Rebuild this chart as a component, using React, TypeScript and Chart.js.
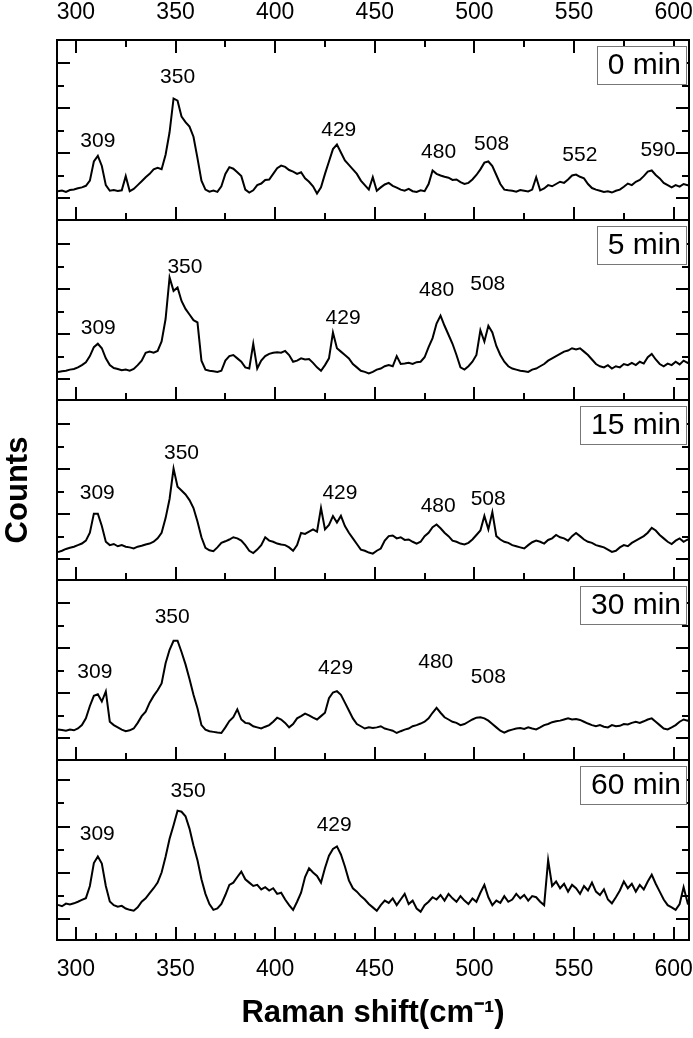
import React, { useEffect, useRef } from 'react';
import { Chart, registerables } from 'chart.js';

Chart.register(...registerables);

const FONT = '"Liberation Sans", Arial, Helvetica, sans-serif';

// Raman shift grid (cm-1)
const wavenumbers = [
  291, 293, 295, 297, 299, 301, 303, 305, 307, 309,
  311, 313, 315, 317, 319, 321, 323, 325, 327, 329,
  331, 333, 335, 337, 339, 341, 343, 345, 347, 349,
  351, 353, 355, 357, 359, 361, 363, 365, 367, 369,
  371, 373, 375, 377, 379, 381, 383, 385, 387, 389,
  391, 393, 395, 397, 399, 401, 403, 405, 407, 409,
  411, 413, 415, 417, 419, 421, 423, 425, 427, 429,
  431, 433, 435, 437, 439, 441, 443, 445, 447, 449,
  451, 453, 455, 457, 459, 461, 463, 465, 467, 469,
  471, 473, 475, 477, 479, 481, 483, 485, 487, 489,
  491, 493, 495, 497, 499, 501, 503, 505, 507, 509,
  511, 513, 515, 517, 519, 521, 523, 525, 527, 529,
  531, 533, 535, 537, 539, 541, 543, 545, 547, 549,
  551, 553, 555, 557, 559, 561, 563, 565, 567, 569,
  571, 573, 575, 577, 579, 581, 583, 585, 587, 589,
  591, 593, 595, 597, 599, 601, 603, 605, 607, 609,
];

const counts0min = [
  1.28, 1.31, 1.25, 1.33, 1.36, 1.41, 1.45, 1.52, 1.75, 2.60,
  2.85, 2.40, 1.55, 1.30, 1.33, 1.29, 1.32, 1.95, 1.28, 1.38,
  1.55, 1.72, 1.90, 2.05, 2.25, 2.32, 2.26, 2.90, 3.90, 5.40,
  5.30, 4.60, 4.35, 4.15, 3.70, 2.75, 1.75, 1.35, 1.26, 1.31,
  1.25, 1.50, 2.05, 2.35, 2.28, 2.12, 1.95, 1.35, 1.22, 1.32,
  1.55, 1.62, 1.78, 1.80, 2.05, 2.30, 2.42, 2.36, 2.22, 2.15,
  2.05, 2.12, 1.85, 1.70, 1.50, 1.18, 1.45, 2.05, 2.60, 3.15,
  3.35, 3.00, 2.65, 2.45, 2.25, 2.05, 1.75, 1.55, 1.35, 1.90,
  1.30, 1.45, 1.58, 1.65, 1.52, 1.44, 1.35, 1.30, 1.38, 1.28,
  1.25, 1.32, 1.28, 1.60, 2.20, 2.05, 1.98, 1.92, 1.88, 1.78,
  1.80, 1.68, 1.60, 1.65, 1.80, 2.00, 2.25, 2.55, 2.60, 2.40,
  2.00, 1.60, 1.35, 1.32, 1.30, 1.26, 1.33, 1.30, 1.27, 1.35,
  1.90, 1.32, 1.40, 1.55, 1.50, 1.60, 1.70, 1.65, 1.80, 1.98,
  2.02, 1.92, 1.85, 1.60, 1.42, 1.35, 1.30, 1.25, 1.28, 1.22,
  1.30, 1.35, 1.48, 1.62, 1.55, 1.70, 1.78, 1.95, 2.15, 2.20,
  2.00, 1.85, 1.65, 1.55, 1.45, 1.55, 1.48, 1.60, 1.55, 1.58,
];

const counts5min = [
  1.24, 1.28, 1.30, 1.35, 1.38, 1.45, 1.55, 1.68, 1.95, 2.35,
  2.50, 2.30, 1.85, 1.55, 1.42, 1.38, 1.32, 1.35, 1.30, 1.38,
  1.55, 1.75, 2.10, 2.15, 2.10, 2.18, 2.60, 3.60, 5.45, 4.85,
  5.00, 4.40, 4.05, 3.80, 3.55, 3.45, 1.75, 1.35, 1.30, 1.28,
  1.25, 1.30, 1.75, 1.95, 2.00, 1.85, 1.70, 1.45, 1.40, 2.50,
  1.40, 1.75, 1.95, 2.05, 2.10, 2.12, 2.10, 2.18, 2.00, 1.70,
  1.75, 1.85, 1.80, 1.82, 1.65, 1.45, 1.30, 1.55, 1.85, 3.00,
  2.30, 2.15, 2.00, 1.85, 1.60, 1.45, 1.30, 1.25, 1.18, 1.25,
  1.35, 1.40, 1.50, 1.55, 1.50, 1.95, 1.60, 1.62, 1.65, 1.60,
  1.68, 1.70, 1.90, 2.35, 2.75, 3.40, 3.75, 3.30, 2.90, 2.50,
  2.00, 1.45, 1.35, 1.50, 1.70, 2.00, 3.10, 2.60, 3.30, 3.00,
  2.40, 2.00, 1.70, 1.50, 1.40, 1.35, 1.30, 1.28, 1.25, 1.35,
  1.40, 1.50, 1.60, 1.75, 1.85, 1.95, 2.05, 2.15, 2.20, 2.30,
  2.25, 2.30, 2.15, 2.00, 1.80, 1.60, 1.50, 1.45, 1.55, 1.40,
  1.50, 1.45, 1.60, 1.55, 1.65, 1.55, 1.70, 1.62, 1.90, 2.05,
  1.80, 1.60, 1.50, 1.62, 1.55, 1.70, 1.58, 1.75, 1.65, 1.72,
];

const counts15min = [
  1.24, 1.30, 1.38, 1.43, 1.48, 1.55, 1.62, 1.75, 2.10, 2.95,
  2.95, 2.40, 1.70, 1.55, 1.60, 1.50, 1.55, 1.48, 1.45, 1.40,
  1.48, 1.52, 1.58, 1.62, 1.70, 1.85, 2.10, 2.75, 3.60, 4.95,
  4.15, 3.98, 3.80, 3.55, 3.20, 2.60, 1.90, 1.43, 1.32, 1.28,
  1.45, 1.65, 1.72, 1.80, 1.90, 1.85, 1.75, 1.55, 1.30, 1.20,
  1.35, 1.55, 1.90, 1.75, 1.70, 1.62, 1.58, 1.55, 1.45, 1.30,
  1.55, 2.09, 2.05, 2.15, 2.25, 2.15, 3.20, 2.25, 2.45, 2.84,
  2.55, 2.85, 2.40, 2.10, 1.85, 1.60, 1.35, 1.30, 1.22, 1.17,
  1.30, 1.40, 1.75, 1.95, 1.98, 1.85, 1.90, 1.78, 1.80, 1.70,
  1.62, 1.70, 1.95, 2.10, 2.35, 2.47, 2.30, 2.10, 1.95, 1.75,
  1.70, 1.62, 1.58, 1.65, 1.80, 2.00, 2.20, 2.85, 2.25, 3.02,
  1.95, 1.80, 1.70, 1.65, 1.55, 1.50, 1.45, 1.40, 1.55, 1.68,
  1.75, 1.70, 1.62, 1.78, 1.85, 2.00, 1.90, 1.85, 1.75, 1.95,
  2.09, 1.95, 1.80, 1.70, 1.65, 1.55, 1.50, 1.45, 1.35, 1.25,
  1.30, 1.45, 1.55, 1.50, 1.65, 1.75, 1.85, 1.95, 2.10, 2.32,
  2.20, 2.00, 1.85, 1.70, 1.60, 1.75, 1.85, 1.70, 1.80, 1.75,
];

const counts30min = [
  1.36, 1.33, 1.30, 1.35, 1.32, 1.40, 1.55, 1.85, 2.40, 2.85,
  2.92, 2.60, 3.05, 1.70, 1.55, 1.45, 1.35, 1.28, 1.32, 1.40,
  1.65, 1.95, 2.15, 2.55, 2.85, 3.10, 3.40, 4.30, 4.90, 5.30,
  5.30, 4.80, 4.25, 3.60, 2.90, 2.30, 1.55, 1.35, 1.28, 1.25,
  1.22, 1.20, 1.45, 1.73, 1.90, 2.25, 1.80, 1.65, 1.62, 1.50,
  1.45, 1.40, 1.48, 1.55, 1.70, 1.88, 1.80, 1.65, 1.45, 1.60,
  1.85, 1.95, 2.06, 1.98, 1.88, 1.80, 1.95, 2.10, 2.75, 3.00,
  3.06, 2.90, 2.55, 2.20, 1.85, 1.60, 1.50, 1.40, 1.45, 1.42,
  1.45, 1.50, 1.40, 1.35, 1.30, 1.20, 1.28, 1.35, 1.40, 1.50,
  1.55, 1.62, 1.70, 1.85, 2.10, 2.32, 2.10, 1.90, 1.80, 1.70,
  1.65, 1.55, 1.60, 1.70, 1.80, 1.88, 1.90, 1.85, 1.75, 1.60,
  1.45, 1.30, 1.22, 1.30, 1.35, 1.40, 1.42, 1.38, 1.45, 1.40,
  1.36, 1.45, 1.55, 1.60, 1.68, 1.72, 1.75, 1.80, 1.85, 1.80,
  1.82, 1.78, 1.70, 1.62, 1.55, 1.50, 1.55, 1.48, 1.45, 1.55,
  1.50, 1.52, 1.60, 1.58, 1.65, 1.70, 1.65, 1.72, 1.80, 1.85,
  1.70, 1.55, 1.40, 1.36, 1.45, 1.55, 1.70, 1.80, 1.75, 1.82,
];

const counts60min = [
  1.56, 1.50, 1.62, 1.58, 1.63, 1.70, 1.78, 1.86, 2.40, 3.42,
  3.71, 3.40, 2.40, 1.71, 1.55, 1.48, 1.52, 1.40, 1.34, 1.30,
  1.45, 1.70, 1.85, 2.08, 2.30, 2.55, 3.00, 3.70, 4.50, 5.10,
  5.75, 5.70, 5.50, 4.95, 4.20, 3.55, 2.70, 2.05, 1.60, 1.34,
  1.40, 1.60, 2.00, 2.45, 2.55, 2.80, 3.04, 2.70, 2.55, 2.40,
  2.45, 2.25, 2.35, 2.20, 2.30, 2.05, 2.10, 1.80, 1.55, 1.34,
  1.70, 2.10, 2.80, 3.19, 3.00, 2.85, 2.55, 3.20, 3.75, 4.05,
  4.16, 3.80, 3.27, 2.65, 2.30, 2.15, 1.95, 1.80, 1.60, 1.45,
  1.30, 1.55, 1.75, 1.65, 1.85, 1.55, 1.80, 2.05, 1.60, 1.75,
  1.40, 1.26, 1.55, 1.70, 1.90, 1.80, 2.00, 1.75, 2.05, 1.85,
  1.70, 1.95, 1.75, 1.60, 1.85, 1.70, 2.10, 2.45, 1.90, 1.55,
  1.75, 1.65, 1.95, 1.70, 1.80, 2.05, 1.85, 2.00, 1.75, 1.95,
  1.90, 1.70, 1.55, 3.55, 2.40, 2.60, 2.30, 2.50, 2.15, 2.45,
  2.30, 2.05, 2.40, 2.20, 2.55, 2.15, 2.00, 2.25, 1.80, 1.63,
  1.90, 2.20, 2.60, 2.30, 2.50, 2.15, 2.45, 2.25, 2.60, 2.90,
  2.50, 2.15, 1.80, 1.55, 1.45, 1.34, 1.60, 2.35, 1.65, 1.90,
];

const panelLabels = ['0 min', '5 min', '15 min', '30 min', '60 min'];

// peak annotations: [text, x (cm-1), y (panel units)]
const peaks0min = [['309', 311, 3.49], ['350', 351, 6.35], ['429', 431.9, 3.98], ['480', 482, 3.0], ['508', 508.6, 3.38], ['552', 552.9, 2.86], ['590', 592.1, 3.12]];
const peaks5min = [['309', 311.2, 3.19], ['350', 354.7, 5.9], ['429', 434.1, 3.63], ['480', 481, 4.89], ['508', 506.7, 5.16]];
const peaks15min = [['309', 310.7, 3.85], ['350', 353, 5.63], ['429', 432.5, 3.85], ['480', 481.8, 3.26], ['508', 506.9, 3.59]];
const peaks30min = [['309', 309.5, 3.88], ['350', 348.3, 6.33], ['429', 430.3, 4.1], ['480', 480.6, 4.36], ['508', 507, 3.69]];
const peaks60min = [['309', 310.7, 4.68], ['350', 356.3, 6.61], ['429', 429.6, 5.12]];

const X_MIN = 290.5;
const X_MAX = 607.7;
const xMajorTicks = [300, 350, 400, 450, 500, 550, 600];
const xMinorTicks = [325, 375, 425, 475, 525, 575];
const xFineTicks = [310, 320, 330, 340, 360, 370, 380, 390, 410, 420, 430, 440, 460, 470, 480, 490, 510, 520, 530, 540, 560, 570, 580, 590];

const yTicks0min = [0.96, 1.96, 2.96, 3.96, 4.96, 5.96, 6.96];
const yTicks5min = [0.92, 1.92, 2.92, 3.92, 4.92, 5.92, 6.92];
const yTicks15min = [0.92, 1.92, 2.92, 3.92, 4.92, 5.92, 6.92];
const yTicks30min = [0.96, 1.96, 2.96, 3.96, 4.96, 5.96, 6.96];
const yTicks60min = [0.92, 1.95, 2.98, 4.01, 5.04, 6.07, 7.1];

const PANELS = [
  { label: panelLabels[0], values: counts0min, peaks: peaks0min, ticks: yTicks0min },
  { label: panelLabels[1], values: counts5min, peaks: peaks5min, ticks: yTicks5min },
  { label: panelLabels[2], values: counts15min, peaks: peaks15min, ticks: yTicks15min },
  { label: panelLabels[3], values: counts30min, peaks: peaks30min, ticks: yTicks30min },
  { label: panelLabels[4], values: counts60min, peaks: peaks60min, ticks: yTicks60min },
];

const panelPlugin = {
  id: 'panelFrames',
  afterDatasetsDraw(chart: any) {
    const { ctx, chartArea } = chart;
    const xs = chart.scales.x;
    const L = chartArea.left;
    const R = chartArea.right;
    const seg = (x1: number, y1: number, x2: number, y2: number) => {
      ctx.beginPath();
      ctx.moveTo(x1, y1);
      ctx.lineTo(x2, y2);
      ctx.stroke();
    };
    ctx.save();
    ctx.lineCap = 'butt';
    PANELS.forEach((panel, i) => {
      const ys = chart.scales['p' + i];
      const T = ys.top;
      const B = ys.bottom;
      ctx.strokeStyle = '#000';
      ctx.lineWidth = 2;
      panel.ticks.forEach((v: number, k: number) => {
        const y = Math.round(ys.getPixelForValue(v));
        const len = k % 2 === 0 ? 13 : 7;
        seg(L, y, L + len, y);
        seg(R, y, R - len, y);
      });
      const last = i === PANELS.length - 1;
      xMajorTicks.forEach((v) => {
        const x = Math.round(xs.getPixelForValue(v));
        seg(x, B, x, B - 13);
        if (i === 0) seg(x, T, x, T + 13);
      });
      (last ? xFineTicks : xMinorTicks).forEach((v) => {
        const x = Math.round(xs.getPixelForValue(v));
        seg(x, B, x, B - 7);
      });
      if (i === 0) {
        xMinorTicks.forEach((v) => {
          const x = Math.round(xs.getPixelForValue(v));
          seg(x, T, x, T + 7);
        });
      }
      ctx.strokeRect(L, T, R - L, B - T);

      ctx.fillStyle = '#000';
      ctx.font = `21px ${FONT}`;
      ctx.textAlign = 'center';
      ctx.textBaseline = 'middle';
      panel.peaks.forEach((p: any) => {
        ctx.fillText(p[0], xs.getPixelForValue(p[1]), ys.getPixelForValue(p[2]));
      });

      ctx.font = `30px ${FONT}`;
      const w = ctx.measureText(panel.label).width;
      const bx1 = R - 3;
      const bx0 = Math.round(bx1 - w - 16);
      const by0 = T + 6;
      const bh = 38;
      ctx.fillStyle = '#fff';
      ctx.fillRect(bx0, by0, bx1 - bx0, bh);
      ctx.strokeStyle = '#777';
      ctx.lineWidth = 1;
      ctx.strokeRect(bx0 + 0.5, by0 + 0.5, bx1 - bx0, bh);
      ctx.fillStyle = '#000';
      ctx.textAlign = 'right';
      ctx.fillText(panel.label, bx1 - 5, by0 + bh / 2 + 1);
    });
    ctx.restore();
  },
};

function buildConfig(): any {
  const datasets = PANELS.map((panel, i) => ({
    label: panel.label,
    data: wavenumbers.map((x, k) => ({ x, y: panel.values[k] })),
    xAxisID: 'x',
    yAxisID: 'p' + i,
    borderColor: '#000',
    borderWidth: 2,
    pointRadius: 0,
    tension: 0,
    fill: false,
  }));

  const tickFont = { family: FONT, size: 23 };
  const xCommon = {
    type: 'linear',
    min: X_MIN,
    max: X_MAX,
    grid: { display: false, drawTicks: false },
    border: { display: false },
    afterBuildTicks: (s: any) => {
      s.ticks = xMajorTicks.map((v) => ({ value: v }));
    },
  };

  const scales: any = {
    x: {
      ...xCommon,
      position: 'bottom',
      ticks: { padding: 16, color: '#000', font: tickFont, maxRotation: 0, autoSkip: false },
      afterFit: (s: any) => {
        s.height = 98;
        s.paddingLeft = 0;
        s.paddingRight = 0;
      },
      title: {
        display: true,
        text: 'Raman shift(cm\u207B\u00B9)',
        color: '#000',
        font: { family: FONT, size: 31, weight: 'bold' },
        padding: { top: 0, bottom: 6 },
      },
    },
    x2: {
      ...xCommon,
      position: 'top',
      ticks: { padding: 14, color: '#000', font: tickFont, maxRotation: 0, autoSkip: false },
      afterFit: (s: any) => {
        s.height = 40;
        s.paddingLeft = 0;
        s.paddingRight = 0;
      },
    },
  };

  PANELS.forEach((panel, i) => {
    scales['p' + i] = {
      type: 'linear',
      position: 'left',
      stack: 'panels',
      stackWeight: 1,
      weight: PANELS.length - i,
      min: 0,
      max: 8,
      display: true,
      grid: { display: false, drawTicks: false },
      border: { display: false },
      ticks: { display: false },
      afterFit: (s: any) => {
        s.width = 57;
        s.paddingTop = 0;
        s.paddingBottom = 0;
      },
      title: i === 2
        ? {
            display: true,
            text: 'Counts',
            color: '#000',
            font: { family: FONT, size: 31, weight: 'bold' },
            padding: 0,
          }
        : { display: false },
    };
  });

  return {
    type: 'line',
    data: { datasets },
    options: {
      responsive: false,
      animation: false,
      devicePixelRatio: 1,
      layout: { padding: { left: 0, right: 4, top: 0, bottom: 0 } },
      plugins: { legend: { display: false }, tooltip: { enabled: false } },
      scales,
    },
    plugins: [panelPlugin],
  };
}

export default function App() {
  const ref = useRef<HTMLCanvasElement>(null);
  useEffect(() => {
    Chart.defaults.font.family = FONT;
    const chart = new Chart(ref.current as HTMLCanvasElement, buildConfig());
    return () => chart.destroy();
  }, []);
  return (
    <div style={{ position: 'absolute', left: 0, top: 0, width: 693, height: 1038, background: '#fff' }}>
      <canvas ref={ref} width={693} height={1038} style={{ display: 'block', width: 693, height: 1038 }} />
    </div>
  );
}
